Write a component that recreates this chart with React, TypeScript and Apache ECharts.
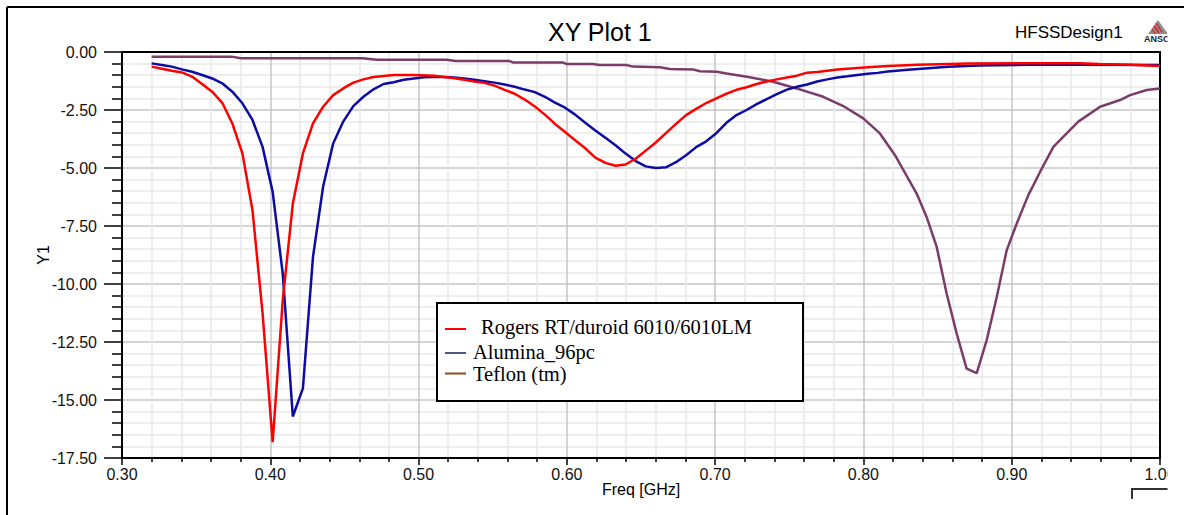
import React, { useEffect, useRef } from "react";
import * as echarts from "echarts";

// ---- Data ----
const seriesNames = ["Rogers RT/duroid 6010/6010LM", "Alumina_96pc", "Teflon (tm)"];
const seriesColors = ["#ff0000", "#0c0ca4", "#7a3c6a"];
const legendLineColors = ["#ff0000", "#4b5a80", "#8b4c1c"];

const rogersFreq = [
  0.32, 0.3268, 0.3336, 0.3404, 0.3472, 0.354, 0.3608, 0.3676, 0.3744, 0.3812, 0.388, 0.3948,
  0.4016, 0.4084, 0.4152, 0.422, 0.4288, 0.4356, 0.4424, 0.4492, 0.456, 0.4628, 0.4696, 0.4764,
  0.4832, 0.4968, 0.5104, 0.524, 0.5308, 0.5376, 0.5444, 0.5512, 0.558, 0.5648, 0.5716, 0.5784,
  0.5852, 0.592, 0.5988, 0.6056, 0.6124, 0.6192, 0.626, 0.6328, 0.6396, 0.6464, 0.6532, 0.66,
  0.6668, 0.6736, 0.6804, 0.6872, 0.694, 0.7008, 0.7076, 0.7144, 0.7212, 0.728, 0.7348, 0.7416,
  0.7484, 0.7552, 0.762, 0.7688, 0.7824, 0.8028, 0.8164, 0.8368, 0.8708, 0.9048, 0.9456, 0.9592,
  0.9796, 1.0,
];
const rogersS11 = [
  -0.63, -0.72, -0.81, -0.88, -1.06, -1.38, -1.71, -2.19, -3.08, -4.37, -6.82, -11.27,
  -16.82, -10.7, -6.53, -4.37, -3.08, -2.36, -1.86, -1.57, -1.32, -1.18, -1.08, -1.03,
  -0.99, -0.99, -1.02, -1.13, -1.2, -1.27, -1.33, -1.45, -1.63, -1.8, -2.05, -2.35,
  -2.7, -3.1, -3.45, -3.8, -4.15, -4.55, -4.78, -4.9, -4.85, -4.6, -4.25, -3.9,
  -3.5, -3.1, -2.72, -2.45, -2.2, -2.0, -1.8, -1.63, -1.52, -1.38, -1.27, -1.18,
  -1.1, -1.02, -0.89, -0.86, -0.75, -0.66, -0.6, -0.55, -0.5, -0.48, -0.48, -0.52,
  -0.55, -0.6,
];

const aluminaFreq = [
  0.32, 0.3268, 0.3336, 0.3404, 0.3472, 0.354, 0.3608, 0.3676, 0.3744, 0.3812, 0.388, 0.3948,
  0.4016, 0.4084, 0.4152, 0.422, 0.4288, 0.4356, 0.4424, 0.4492, 0.456, 0.4628, 0.4696, 0.4764,
  0.4832, 0.49, 0.4968, 0.5036, 0.5104, 0.5172, 0.524, 0.5308, 0.5376, 0.5444, 0.5512, 0.558,
  0.5648, 0.5716, 0.5784, 0.5852, 0.592, 0.5988, 0.6056, 0.6124, 0.6192, 0.626, 0.6328, 0.6396,
  0.6464, 0.6532, 0.66, 0.6668, 0.6736, 0.6804, 0.6872, 0.694, 0.7008, 0.7076, 0.7144, 0.7212,
  0.728, 0.7348, 0.7416, 0.7484, 0.7552, 0.762, 0.7688, 0.7756, 0.7824, 0.7892, 0.796, 0.8028,
  0.8096, 0.8164, 0.83, 0.8436, 0.8572, 0.878, 0.912, 0.946, 1.0,
];
const aluminaS11 = [
  -0.49, -0.56, -0.63, -0.75, -0.85, -0.99, -1.14, -1.35, -1.71, -2.21, -2.93, -4.09,
  -6.03, -9.55, -15.71, -14.5, -8.83, -5.81, -3.94, -3.0, -2.33, -1.93, -1.61, -1.38,
  -1.3, -1.2, -1.14, -1.09, -1.08, -1.08, -1.1, -1.14, -1.2, -1.26, -1.32, -1.4,
  -1.5, -1.62, -1.73, -1.93, -2.18, -2.4, -2.7, -3.05, -3.38, -3.7, -4.02, -4.38,
  -4.7, -4.93, -5.0, -4.97, -4.75, -4.45, -4.1, -3.85, -3.5, -3.05, -2.72, -2.5,
  -2.25, -2.03, -1.82, -1.62, -1.5, -1.4, -1.27, -1.18, -1.1, -1.05, -0.99, -0.94,
  -0.9, -0.84, -0.77, -0.7, -0.64, -0.58, -0.55, -0.55, -0.56,
];

const teflonFreq = [
  0.32, 0.374, 0.38, 0.462, 0.472, 0.519, 0.525, 0.5615, 0.5635, 0.597, 0.6, 0.6175,
  0.622, 0.64, 0.6445, 0.6627, 0.6694, 0.685, 0.6897, 0.7011, 0.7077, 0.7234, 0.7391, 0.7549,
  0.7729, 0.7864, 0.7999, 0.8111, 0.8213, 0.8359, 0.8426, 0.8494, 0.8561, 0.8629, 0.8696, 0.8764,
  0.8831, 0.8899, 0.8966, 0.9034, 0.9112, 0.9191, 0.9281, 0.9449, 0.9596, 0.9731, 0.9798, 0.9911,
  1.0,
];
const teflonS11 = [
  -0.2, -0.2, -0.27, -0.27, -0.33, -0.33, -0.39, -0.39, -0.45, -0.45, -0.52, -0.52,
  -0.56, -0.56, -0.63, -0.66, -0.73, -0.75, -0.83, -0.85, -0.93, -1.09, -1.28, -1.57,
  -1.93, -2.33, -2.86, -3.51, -4.45, -6.1, -7.11, -8.4, -10.41, -12.14, -13.65, -13.84,
  -12.43, -10.56, -8.55, -7.39, -6.17, -5.17, -4.09, -3.0, -2.36, -2.07, -1.86, -1.64,
  -1.57,
];

const xMin = 0.3;
const xMax = 1.0;
const xStep = 0.1;
const yMin = -17.5;
const yMax = 0;
const yStep = 2.5;

const SANS = "'Liberation Sans', Arial, sans-serif";
const SERIF = "'Liberation Serif', 'Times New Roman', serif";

function pairs(f: number[], v: number[]) {
  return f.map((x, i) => [x, v[i]]);
}

export default function App() {
  const ref = useRef<HTMLDivElement>(null);

  useEffect(() => {
    if (!ref.current) return;
    const chart = echarts.init(ref.current, undefined, { renderer: "svg" });

    const gridLeft = 122;
    const gridTop = 52;
    const gridWidth = 1038;
    const gridHeight = 406;

    const splitLine = { show: true, lineStyle: { color: "#c6c6c6", width: 1.5 } };
    const minorSplitLine = { show: true, lineStyle: { color: "#e8e8e8", width: 1.5 } };

    const legendX = 437;
    const legendY = 303;
    const legendRows = [326.5, 352, 374];
    const legendLineY = [329, 353, 373.5];
    const legendTextX = [481, 473, 473];

    const legendChildren: any[] = [
      {
        type: "rect",
        z: 100,
        shape: { x: legendX, y: legendY, width: 366, height: 98 },
        style: { fill: "#ffffff", stroke: "#000000", lineWidth: 2 },
      },
    ];
    seriesNames.forEach((name, i) => {
      legendChildren.push({
        type: "line",
        z: 101,
        shape: { x1: 445, y1: legendLineY[i], x2: 466, y2: legendLineY[i] },
        style: { stroke: legendLineColors[i], lineWidth: 2 },
      });
      legendChildren.push({
        type: "text",
        z: 101,
        x: legendTextX[i],
        y: legendRows[i],
        style: {
          text: name,
          fontFamily: SERIF,
          fontSize: 20.5,
          fill: "#000000",
          textVerticalAlign: "middle",
          textAlign: "left",
        },
      });
    });

    const option: any = {
      animation: false,
      backgroundColor: "#ffffff",
      title: {
        text: "XY Plot 1",
        left: 548,
        top: 19,
        padding: 0,
        textStyle: { fontFamily: SANS, fontSize: 25, fontWeight: "normal", color: "#000" },
      },
      grid: { left: gridLeft, top: gridTop, width: gridWidth, height: gridHeight, containLabel: false },
      xAxis: [
        {
          type: "value",
          min: xMin,
          max: xMax,
          interval: xStep,
          name: "Freq [GHz]",
          nameLocation: "middle",
          nameGap: 23,
          nameMoveOverlap: false,
          nameTextStyle: { fontFamily: SANS, fontSize: 16, color: "#000" },
          axisLine: { show: true, onZero: false, lineStyle: { color: "#000", width: 2 } },
          axisTick: { show: true, length: 7, lineStyle: { color: "#000", width: 1.5 } },
          minorTick: { show: true, splitNumber: 5, length: 4, lineStyle: { color: "#000", width: 1.5 } },
          axisLabel: {
            margin: 8,
            fontFamily: SANS,
            fontSize: 16,
            color: "#111",
            formatter: (v: number) => v.toFixed(2),
          },
          splitLine,
          minorSplitLine,
        },
        {
          type: "value",
          position: "top",
          min: xMin,
          max: xMax,
          interval: xStep,
          axisLine: { show: true, onZero: false, lineStyle: { color: "#000", width: 2 } },
          axisTick: { show: false },
          axisLabel: { show: false },
          splitLine: { show: false },
        },
      ],
      yAxis: [
        {
          type: "value",
          min: yMin,
          max: yMax,
          interval: yStep,
          name: "Y1",
          nameLocation: "middle",
          nameRotate: 90,
          nameGap: 79,
          nameMoveOverlap: false,
          nameTextStyle: { fontFamily: SANS, fontSize: 16, color: "#000", verticalAlign: "middle" },
          axisLine: { show: true, onZero: false, lineStyle: { color: "#000", width: 2 } },
          axisTick: { show: true, length: 18, lineStyle: { color: "#000", width: 1.5 } },
          minorTick: { show: true, splitNumber: 5, length: 10, lineStyle: { color: "#000", width: 1.5 } },
          axisLabel: {
            margin: 25,
            fontFamily: SANS,
            fontSize: 16,
            color: "#111",
            formatter: (v: number) => v.toFixed(2),
          },
          splitLine,
          minorSplitLine,
        },
        {
          type: "value",
          position: "right",
          min: yMin,
          max: yMax,
          interval: yStep,
          axisLine: { show: true, onZero: false, lineStyle: { color: "#000", width: 2 } },
          axisTick: { show: false },
          axisLabel: { show: false },
          splitLine: { show: false },
        },
      ],
      series: [
        {
          name: seriesNames[2],
          type: "line",
          data: pairs(teflonFreq, teflonS11),
          showSymbol: false,
          symbol: "none",
          lineStyle: { color: seriesColors[2], width: 2.5 },
          itemStyle: { color: seriesColors[2] },
          z: 3,
        },
        {
          name: seriesNames[1],
          type: "line",
          data: pairs(aluminaFreq, aluminaS11),
          showSymbol: false,
          symbol: "none",
          lineStyle: { color: seriesColors[1], width: 2.5 },
          itemStyle: { color: seriesColors[1] },
          z: 4,
        },
        {
          name: seriesNames[0],
          type: "line",
          data: pairs(rogersFreq, rogersS11),
          showSymbol: false,
          symbol: "none",
          lineStyle: { color: seriesColors[0], width: 2.5 },
          itemStyle: { color: seriesColors[0] },
          z: 5,
        },
      ],
      graphic: [
        {
          type: "group",
          z: 100,
          children: legendChildren,
        },
        {
          type: "text",
          z: 100,
          x: 1015,
          y: 32,
          style: {
            text: "HFSSDesign1",
            fontFamily: SANS,
            fontSize: 17,
            fill: "#000",
            textVerticalAlign: "middle",
          },
        },
        {
          type: "group",
          z: 100,
          children: [
            {
              type: "polygon",
              z: 100,
              shape: { points: [[1158, 20], [1148, 34], [1168, 34]] },
              style: { fill: "#8e8e8e" },
            },
            {
              type: "line",
              z: 101,
              shape: { x1: 1156, y1: 23, x2: 1162, y2: 32 },
              style: { stroke: "#e8141c", lineWidth: 1.3 },
            },
            {
              type: "line",
              z: 101,
              shape: { x1: 1154, y1: 26, x2: 1159, y2: 33 },
              style: { stroke: "#e8141c", lineWidth: 1.3 },
            },
            {
              type: "line",
              z: 101,
              shape: { x1: 1152, y1: 29, x2: 1155.5, y2: 34 },
              style: { stroke: "#e8141c", lineWidth: 1.3 },
            },
            {
              type: "text",
              z: 101,
              x: 1144,
              y: 39,
              style: {
                text: "ANSOFT",
                fontFamily: SANS,
                fontSize: 9,
                fontWeight: "bold",
                fill: "#222",
                textVerticalAlign: "middle",
              },
            },
          ],
        },
        {
          type: "rect",
          z: 200,
          shape: { x: 1167.5, y: 12, width: 20, height: 510 },
          style: { fill: "#ffffff" },
        },
        {
          type: "polyline",
          z: 201,
          shape: { points: [[1132, 499], [1132, 489], [1167.5, 489]] },
          style: { stroke: "#333", lineWidth: 2, fill: null },
        },
        {
          type: "line",
          z: 201,
          shape: { x1: 7, y1: 7, x2: 1184, y2: 7 },
          style: { stroke: "#000", lineWidth: 2 },
        },
        {
          type: "line",
          z: 201,
          shape: { x1: 7, y1: 7, x2: 7, y2: 515 },
          style: { stroke: "#000", lineWidth: 2 },
        },
      ],
    };

    chart.setOption(option);
    return () => {
      chart.dispose();
    };
  }, []);

  return (
    <div
      ref={ref}
      style={{ position: "absolute", left: 0, top: 0, width: 1184, height: 515, background: "#fff" }}
    />
  );
}
